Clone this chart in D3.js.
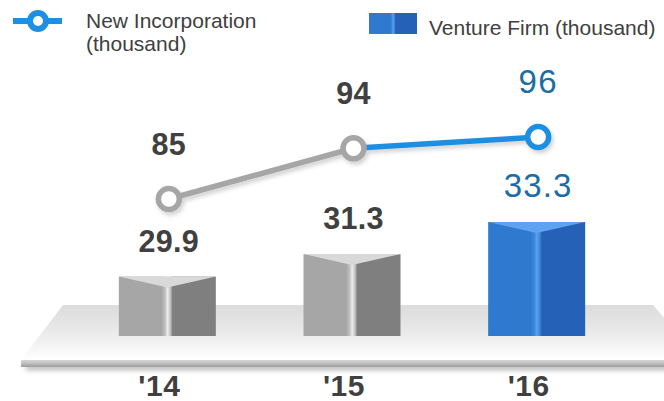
<!DOCTYPE html>
<html><head><meta charset="utf-8">
<script src="https://cdn.jsdelivr.net/npm/d3@7"></script>
<style>html,body{margin:0;padding:0;background:#fff;}svg{display:block;}</style>
</head><body>
<svg id="chart" width="664" height="401"></svg>
<script>
const categories = ["'14", "'15", "'16"];
const incorporation = [85, 94, 96];       // thousand
const ventureFirms = [29.9, 31.3, 33.3];  // thousand
const legendLabels = ["New Incorporation", "(thousand)", "Venture Firm (thousand)"];

const svg = d3.select("#chart");
const W = 664, H = 401;
const defs = svg.append("defs");

const x = d3.scalePoint().domain(categories).range([75, 629]).padding(0.5);
const yBar = d3.scaleLinear().domain([26.2, 33.3]).range([336, 222]);
const yLine = d3.scaleLinear().domain([85, 96]).range([199, 137]);
const barW = 97;
const baseY = yBar(26.2);

// gradients
function faceGrad(id, left, hl, right) {
  const g = defs.append("linearGradient").attr("id", id).attr("x1", 0).attr("x2", 1).attr("y1", 0).attr("y2", 0);
  [[0, left], [0.44, left], [0.48, hl[0]], [0.5, hl[1]], [0.53, hl[0]], [0.555, right], [1, right]]
    .forEach(([o, c]) => g.append("stop").attr("offset", o).attr("stop-color", c));
}
faceGrad("gGray", "#a6a6a6", ["#c4c4c4", "#ededed"], "#7f7f7f");
faceGrad("gBlue", "#2f79cf", ["#3f8ade", "#5aa3ee"], "#2661b8");

const plat = defs.append("linearGradient").attr("id", "gPlat").attr("x1", 0).attr("x2", 0).attr("y1", 0).attr("y2", 1);
[[0, "#dcdcdc"], [0.45, "#e8e8e8"], [1, "#ffffff"]].forEach(([o, c]) => plat.append("stop").attr("offset", o).attr("stop-color", c));
const edge = defs.append("linearGradient").attr("id", "gEdge").attr("x1", 0).attr("x2", 0).attr("y1", 0).attr("y2", 1);
[[0, "#d6d6d6"], [0.4, "#c4c4c4"], [1, "#9c9c9c"]].forEach(([o, c]) => edge.append("stop").attr("offset", o).attr("stop-color", c));

const blur = defs.append("filter").attr("id", "fBlur").attr("x", "-10%").attr("y", "-200%").attr("width", "120%").attr("height", "500%");
blur.append("feGaussianBlur").attr("stdDeviation", 2.5);
const ds = defs.append("filter").attr("id", "fShadow").attr("x", "-20%").attr("y", "-50%").attr("width", "140%").attr("height", "200%");
ds.append("feDropShadow").attr("dx", 2).attr("dy", 3).attr("stdDeviation", 2).attr("flood-color", "#000").attr("flood-opacity", 0.18);

// platform
const topY = 305, botY = 360;
svg.append("rect").attr("x", 26).attr("y", botY + 5).attr("width", W).attr("height", 5)
  .attr("fill", "#a0a0a0").attr("filter", "url(#fBlur)").attr("opacity", 0.8);
svg.append("path")
  .attr("d", `M63,${topY} L653,${topY} L700,${botY} L21,${botY} Z`)
  .attr("fill", "url(#gPlat)");
svg.append("rect").attr("x", 21).attr("y", botY).attr("width", W).attr("height", 7).attr("fill", "url(#gEdge)");

// bars
const bars = svg.append("g").selectAll("g").data(categories).join("g");
bars.append("rect")
  .attr("x", d => x(d) - barW / 2)
  .attr("y", (d, i) => yBar(ventureFirms[i]))
  .attr("width", barW)
  .attr("height", (d, i) => baseY - yBar(ventureFirms[i]))
  .attr("fill", (d, i) => i === 2 ? "url(#gBlue)" : "url(#gGray)");
bars.append("path")
  .attr("d", (d, i) => {
    const l = x(d) - barW / 2, r = x(d) + barW / 2, t = yBar(ventureFirms[i]);
    return `M${l},${t} L${r},${t} L${x(d)},${t + 11} Z`;
  })
  .attr("fill", (d, i) => i === 2 ? "#5fa2f1" : "#d9d9d9");

const isHi = i => i === 2;
function styleLabel(sel) {
  sel.attr("text-anchor", "middle")
    .attr("font-family", "'Liberation Sans', Arial, sans-serif")
    .attr("font-size", (d, i) => isHi(i) ? 33 : 30.5)
    .attr("font-weight", (d, i) => isHi(i) ? "normal" : "bold")
    .attr("letter-spacing", (d, i) => isHi(i) ? 1.2 : 0.3)
    .attr("fill", (d, i) => isHi(i) ? "#1a6da6" : "#404040");
}

// bar labels
svg.append("g").selectAll("text").data(categories).join("text")
  .attr("x", d => x(d) + 1.5)
  .attr("y", (d, i) => yBar(ventureFirms[i]) - 25)
  .call(styleLabel)
  .text((d, i) => ventureFirms[i]);

// line
const pts = categories.map((c, i) => [x(c) + 1.5, yLine(incorporation[i])]);
const lineG = svg.append("g").attr("filter", "url(#fShadow)");
lineG.selectAll("line").data(d3.pairs(pts)).join("line")
  .attr("x1", d => d[0][0]).attr("y1", d => d[0][1])
  .attr("x2", d => d[1][0]).attr("y2", d => d[1][1])
  .attr("stroke", (d, i) => i === 1 ? "#1e8fe3" : "#a6a6a6")
  .attr("stroke-width", 5.5);
lineG.selectAll("circle").data(pts).join("circle")
  .attr("cx", d => d[0]).attr("cy", d => d[1]).attr("r", 10.5)
  .attr("fill", "#fff")
  .attr("stroke", (d, i) => i === 2 ? "#1e8fe3" : "#a6a6a6")
  .attr("stroke-width", 5.5);

svg.append("g").selectAll("text").data(categories).join("text")
  .attr("x", d => x(d) + 1.5)
  .attr("y", (d, i) => yLine(incorporation[i]) - 44)
  .call(styleLabel)
  .text((d, i) => incorporation[i]);

// x axis labels
svg.append("g").selectAll("text").data(categories).join("text")
  .attr("x", d => x(d) - 8)
  .attr("y", 396)
  .attr("text-anchor", "middle")
  .attr("font-family", "'Liberation Sans', Arial, sans-serif")
  .attr("font-size", 30).attr("font-weight", "bold")
  .attr("letter-spacing", 0.5)
  .attr("fill", "#404040")
  .text(d => d);

// legend
const lg = svg.append("g");
lg.append("line").attr("x1", 13).attr("x2", 62).attr("y1", 21).attr("y2", 21).attr("stroke", "#1e8fe3").attr("stroke-width", 6);
lg.append("circle").attr("cx", 38).attr("cy", 21).attr("r", 8).attr("fill", "#fff").attr("stroke", "#1e8fe3").attr("stroke-width", 6);
lg.append("text").attr("x", 86).attr("y", 28).text(legendLabels[0]);
lg.append("text").attr("x", 86).attr("y", 51).text(legendLabels[1]);
lg.append("rect").attr("x", 369).attr("y", 13).attr("width", 48).attr("height", 21).attr("fill", "url(#gBlue)");
lg.append("text").attr("x", 429).attr("y", 35).text(legendLabels[2]);
lg.selectAll("text").attr("font-family", "'Liberation Sans', Arial, sans-serif").attr("font-size", 21).attr("fill", "#404040");
</script>
</body></html>
